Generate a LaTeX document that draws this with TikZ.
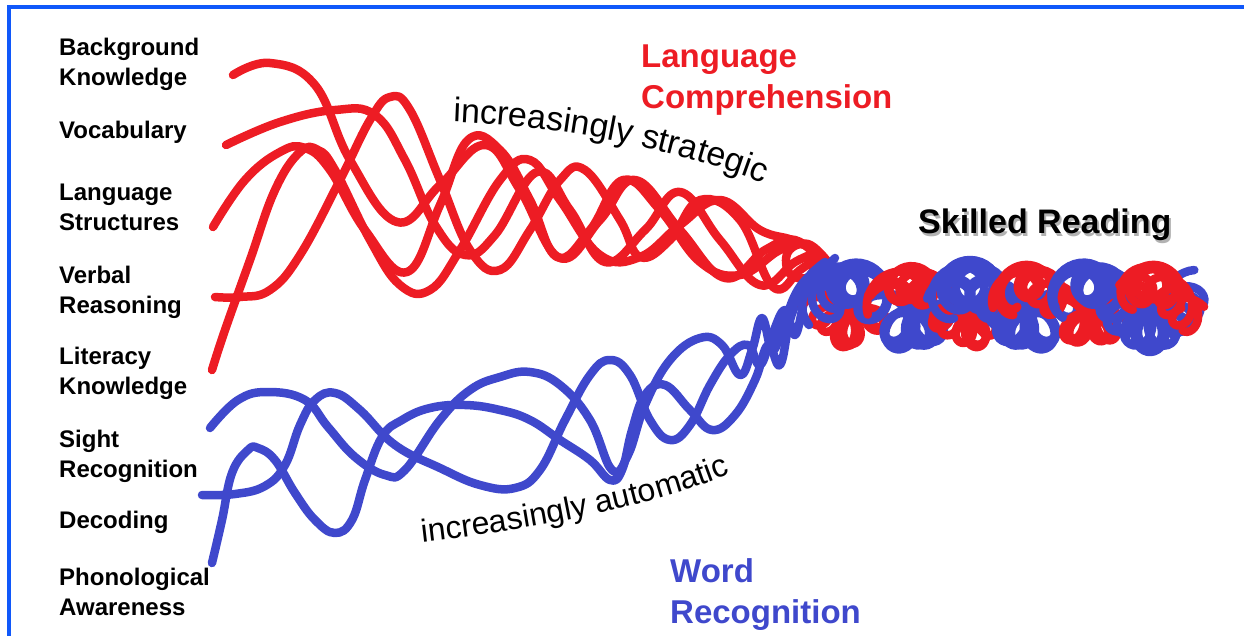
\documentclass[tikz,border=0pt]{standalone}
\usepackage{fontspec}
\setmainfont{Liberation Sans}
\usetikzlibrary{decorations.text}
\definecolor{ropered}{RGB}{237,28,36}
\definecolor{ropeblue}{RGB}{63,72,204}
\definecolor{frameblue}{RGB}{16,88,250}
% one strand of the twisted skilled-reading knot
% #1 colour, #2 side, #3 phase, #4 from, #5 to, #6 loop radius, #7 loop rate
\newcommand\knotstrand[7]{\draw[strand,#1] plot[domain=#4:#5, samples=70, variable=\t]
  ({\t+#6*cos(#7*(\t-820)+#3)}, {306+#2*24*sin(3*(\t-820))+#6*sin(#7*(\t-820)+#3)});}

\begin{document}
\begin{tikzpicture}[x=1pt, y=-1pt,
  strand/.style={line width=8.5pt, line cap=round, line join=round},
  redstrand/.style={strand, ropered, smooth, tension=0.7},
  bluestrand/.style={strand, ropeblue, smooth, tension=0.7},
  lbl/.style={font=\fontsize{24}{30}\selectfont\bfseries, anchor=base west, align=left, inner sep=0pt},
  title/.style={font=\fontsize{33}{41}\selectfont\bfseries, anchor=base west, align=left, inner sep=0pt}]
\useasboundingbox (0,0) rectangle (1244,635);

% frame
\draw[frameblue, line width=4pt] (9,640) -- (9,7) -- (1250,7);

% strand labels
\node[lbl] (bk) at (59,85) {Background\\Knowledge};
\node[lbl] (voc) at (59,138) {Vocabulary};
\node[lbl] (ls) at (59,230) {Language\\Structures};
\node[lbl] (vr) at (59,313) {Verbal\\Reasoning};
\node[lbl] (lk) at (59,394) {Literacy\\Knowledge};
\node[lbl] (sr) at (59,477) {Sight\\Recognition};
\node[lbl] (dec) at (59,528) {Decoding};
\node[lbl] (pa) at (59,615) {Phonological\\Awareness};

% language comprehension strands
\draw[redstrand] plot coordinates {(233,75) (270,63) (315,85) (350,160) (397,222) (440,185)
  (485,145) (520,190) (560,258) (600,220) (635,180) (680,230) (725,278) (765,250) (795,240) (822,262)};
\draw[redstrand] plot coordinates {(226,145) (280,122) (335,110) (375,115) (405,160) (435,225)
  (465,255) (495,235) (537,172) (570,210) (605,262) (645,230) (680,192) (720,240) (760,285) (795,262) (818,252)};
\draw[redstrand] plot coordinates {(213,227) (245,180) (280,152) (305,148) (330,170) (365,230)
  (407,272) (440,205) (468,140) (500,150) (530,200) (557,257) (590,230) (623,180) (660,210)
  (700,262) (740,275) (780,250) (805,245) (825,262)};
\draw[redstrand] plot coordinates {(215,297) (240,297) (270,290) (300,255) (340,180) (370,120)
  (390,97) (410,110) (440,180) (470,250) (500,270) (530,230) (560,180) (585,170) (620,220)
  (640,257) (670,240) (700,200) (740,220) (773,287) (800,270) (820,255)};
\draw[redstrand] plot coordinates {(212,370) (225,330) (250,260) (275,190) (300,152) (318,150)
  (335,170) (370,240) (400,285) (430,290) (460,250) (500,180) (530,160) (560,200) (600,255)
  (640,257) (680,225) (720,200) (760,230) (792,240) (812,252) (810,276) (790,274) (788,252) (808,244) (828,262)};

% word recognition strands
\draw[bluestrand] plot coordinates {(210,428) (238,400) (268,392) (305,400) (328,427) (355,457)
  (385,475) (405,470) (440,420) (470,390) (500,377) (530,372) (560,385) (590,420) (612,470)
  (628,455) (645,405) (670,360) (700,338) (722,345) (740,375) (752,350) (762,318) (772,350)
  (782,330) (795,295) (810,275) (825,262)};
\draw[bluestrand] plot coordinates {(202,495) (235,494) (265,486) (285,465) (300,425) (315,400)
  (335,393) (360,410) (395,445) (440,468) (480,485) (515,488) (540,470) (565,420) (590,375)
  (610,360) (630,375) (650,420) (670,440) (690,425) (710,385) (730,355) (748,345) (760,365)
  (772,335) (785,310) (795,335) (805,300) (818,275) (832,262)};
\draw[bluestrand] plot coordinates {(212,563) (222,520) (232,473) (248,450) (258,448) (275,460)
  (295,493) (315,520) (335,533) (352,520) (365,480) (382,437) (402,420) (430,408) (465,405)
  (500,410) (530,420) (560,440) (590,460) (610,480) (622,470) (632,430) (645,395) (665,385)
  (690,410) (712,430) (735,415) (755,380) (768,345) (780,365) (790,320) (803,290) (818,275) (835,258)};

% skilled reading knot
\foreach \k in {0,...,5}{
  \pgfmathsetmacro\xa{820+62*\k}
  \pgfmathsetmacro\xb{\xa+62}
  \ifodd\k
    \knotstrand{ropeblue}{-1}{0}{\xa}{\xb}{20}{15}
    \knotstrand{ropeblue}{-1}{120}{\xa}{\xb}{22}{13}
    \knotstrand{ropeblue}{-1}{240}{\xa}{\xb}{17}{17}
    \knotstrand{ropered}{1}{60}{\xa}{\xb}{16}{14}
    \knotstrand{ropered}{1}{180}{\xa}{\xb}{18}{11}
    \knotstrand{ropered}{1}{300}{\xa}{\xb}{14}{16}
  \else
    \knotstrand{ropered}{1}{60}{\xa}{\xb}{16}{14}
    \knotstrand{ropered}{1}{180}{\xa}{\xb}{18}{11}
    \knotstrand{ropered}{1}{300}{\xa}{\xb}{14}{16}
    \knotstrand{ropeblue}{-1}{0}{\xa}{\xb}{20}{15}
    \knotstrand{ropeblue}{-1}{120}{\xa}{\xb}{22}{13}
    \knotstrand{ropeblue}{-1}{240}{\xa}{\xb}{17}{17}
  \fi
}

% titles
\node[title, text=ropered] (langcomp) at (641,108) {Language\\Comprehension};
\node[title, text=ropeblue] (wordrec) at (670,623) {Word\\Recognition};
\node[title, font=\fontsize{34}{40}\selectfont\bfseries, text=black!30] (skilledshadow) at (920,236) {Skilled Reading};
\node[title, font=\fontsize{34}{40}\selectfont\bfseries] (skilled) at (918,233) {Skilled Reading};

\path[decorate, decoration={text along path, text align=left,
  text={|\fontsize{34}{40}\selectfont|increasingly strategic}}]
  (453,122) .. controls (560,126) and (680,148) .. (780,190);
\path[decorate, decoration={text along path, text align=left,
  text={|\fontsize{32}{40}\selectfont|increasingly automatic}}]
  (422,542) .. controls (510,532) and (640,512) .. (735,472);
\end{tikzpicture}
\end{document}
